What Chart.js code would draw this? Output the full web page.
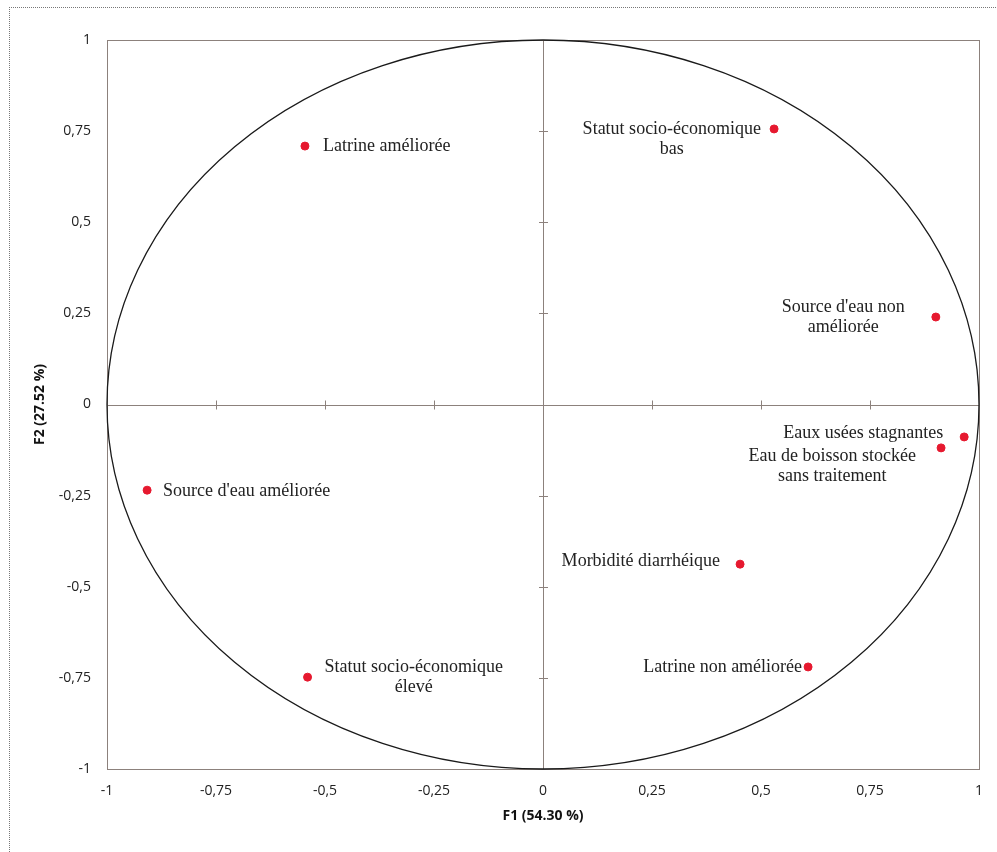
<!DOCTYPE html>
<html>
<head>
<meta charset="utf-8">
<script src="https://cdn.jsdelivr.net/npm/chart.js@4/dist/chart.umd.min.js"></script>
<style>
    body { margin: 0; background: #fff; }
    #wrap { position: relative; width: 997px; height: 852px; overflow: hidden; }
    #frame { position: absolute; left: 9px; top: 7px; width: 1000px; height: 900px;
             border-left: 1px dotted #777; border-top: 1px dotted #777; }
    canvas { position: absolute; left: 0; top: 0; }
</style>
</head>
<body>
<div id="wrap">
    <div id="frame"></div>
    <canvas id="pcaChart" width="997" height="852"></canvas>
</div>
<script>
// variables (label lines) and their coordinates on F1 / F2
const variables = [
    ['Latrine améliorée'],
    ['Statut socio-économique', 'bas'],
    ["Source d'eau non", 'améliorée'],
    ['Eaux usées stagnantes'],
    ['Eau de boisson stockée', 'sans traitement'],
    ["Source d'eau améliorée"],
    ['Morbidité diarrhéique'],
    ['Latrine non améliorée'],
    ['Statut socio-économique', 'élevé']
];
const f1 = [-0.546, 0.530, 0.901, 0.966, 0.913, -0.908, 0.452, 0.608, -0.540];
const f2 = [0.709, 0.756, 0.240, -0.089, -0.119, -0.235, -0.438, -0.720, -0.748];
const axisTicks = [-1, -0.75, -0.5, -0.25, 0, 0.25, 0.5, 0.75, 1];
const xTitle = 'F1 (54.30 %)';
const yTitle = 'F2 (27.52 %)';

// placement of each label around its point (side, dx, dy in px)
const labelPlacement = [
    ['right', 18, 0],
    ['left', 13, 0],
    ['left', 31, -10],
    ['left', 21, -4],
    ['left', 25, 8],
    ['right', 16, 1],
    ['left', 20, -3],
    ['left', 6, 0],
    ['right', 17, -10]
];

const axisColor = '#8c817c';
const fmt = v => String(Math.round(v * 100) / 100).replace('.', ',');

// cercle des corrélations + axes passant par 0 + cadre
const circlePlugin = {
    id: 'circle',
    beforeDatasetsDraw(chart) {
        const { ctx, chartArea: a, scales: { x, y } } = chart;
        const x0 = x.getPixelForValue(0);
        const y0 = y.getPixelForValue(0);
        ctx.save();
        ctx.strokeStyle = axisColor;
        ctx.lineWidth = 1;
        ctx.strokeRect(a.left + 0.5, a.top + 0.5, a.right - a.left, a.bottom - a.top);
        ctx.beginPath();
        ctx.moveTo(a.left, Math.round(y0) + 0.5);
        ctx.lineTo(a.right, Math.round(y0) + 0.5);
        ctx.moveTo(Math.round(x0) + 0.5, a.top);
        ctx.lineTo(Math.round(x0) + 0.5, a.bottom);
        axisTicks.forEach(v => {
            const px = Math.round(x.getPixelForValue(v)) + 0.5;
            const py = Math.round(y.getPixelForValue(v)) + 0.5;
            ctx.moveTo(px, y0 - 4);
            ctx.lineTo(px, y0 + 5);
            ctx.moveTo(x0 - 4, py);
            ctx.lineTo(x0 + 5, py);
        });
        ctx.stroke();

        ctx.strokeStyle = '#1a1a1a';
        ctx.lineWidth = 1.3;
        ctx.beginPath();
        ctx.ellipse(x0, y0, x.getPixelForValue(1) - x0, y0 - y.getPixelForValue(1), 0, 0, Math.PI * 2);
        ctx.stroke();
        ctx.restore();
    },
    afterDatasetsDraw(chart) {
        const { ctx, scales: { x, y } } = chart;
        ctx.save();
        ctx.font = '18px "Liberation Serif", serif';
        ctx.fillStyle = '#222';
        ctx.textAlign = 'center';
        ctx.textBaseline = 'middle';
        variables.forEach((lines, i) => {
            const px = x.getPixelForValue(f1[i]);
            const py = y.getPixelForValue(f2[i]);
            const [side, dx, dy] = labelPlacement[i];
            const w = Math.max(...lines.map(l => ctx.measureText(l).width));
            const cx = side === 'right' ? px + dx + w / 2 : px - dx - w / 2;
            lines.forEach((l, j) => ctx.fillText(l, cx, py + dy + j * 20));
        });
        ctx.restore();
    }
};

const ctx = document.getElementById('pcaChart').getContext('2d');
new Chart(ctx, {
    type: 'scatter',
    data: {
        datasets: [{
            data: f1.map((v, i) => ({ x: v, y: f2[i] })),
            backgroundColor: '#e6192f',
            borderColor: '#e6192f',
            pointRadius: 4,
            pointHoverRadius: 4
        }]
    },
    options: {
        responsive: false,
        animation: false,
        layout: { padding: { left: 28, top: 40, right: 18, bottom: 24 } },
        plugins: { legend: { display: false }, tooltip: { enabled: false } },
        scales: {
            x: {
                min: -1, max: 1,
                afterBuildTicks: s => { s.ticks = axisTicks.map(v => ({ value: v })); },
                afterFit: s => { s.height = 59; },
                grid: { display: false },
                border: { display: false },
                ticks: {
                    autoSkip: false, maxRotation: 0, padding: 6,
                    color: '#222', font: { family: '"Open Sans"', size: 14 },
                    callback: v => fmt(v)
                },
                title: {
                    display: true, text: xTitle, color: '#111',
                    font: { family: '"Open Sans"', size: 14, weight: 'bold' },
                    padding: { top: 4, bottom: 4 }
                }
            },
            y: {
                min: -1, max: 1,
                afterBuildTicks: s => { s.ticks = axisTicks.map(v => ({ value: v })); },
                afterFit: s => { s.width = 79; },
                grid: { display: false },
                border: { display: false },
                ticks: {
                    autoSkip: false, padding: 8,
                    color: '#222', font: { family: '"Open Sans"', size: 14 },
                    callback: v => fmt(v)
                },
                title: {
                    display: true, text: yTitle, color: '#111',
                    font: { family: '"Open Sans"', size: 14, weight: 'bold' },
                    padding: { top: 4, bottom: 4 }
                }
            }
        }
    },
    plugins: [circlePlugin]
});
</script>
</body>
</html>
